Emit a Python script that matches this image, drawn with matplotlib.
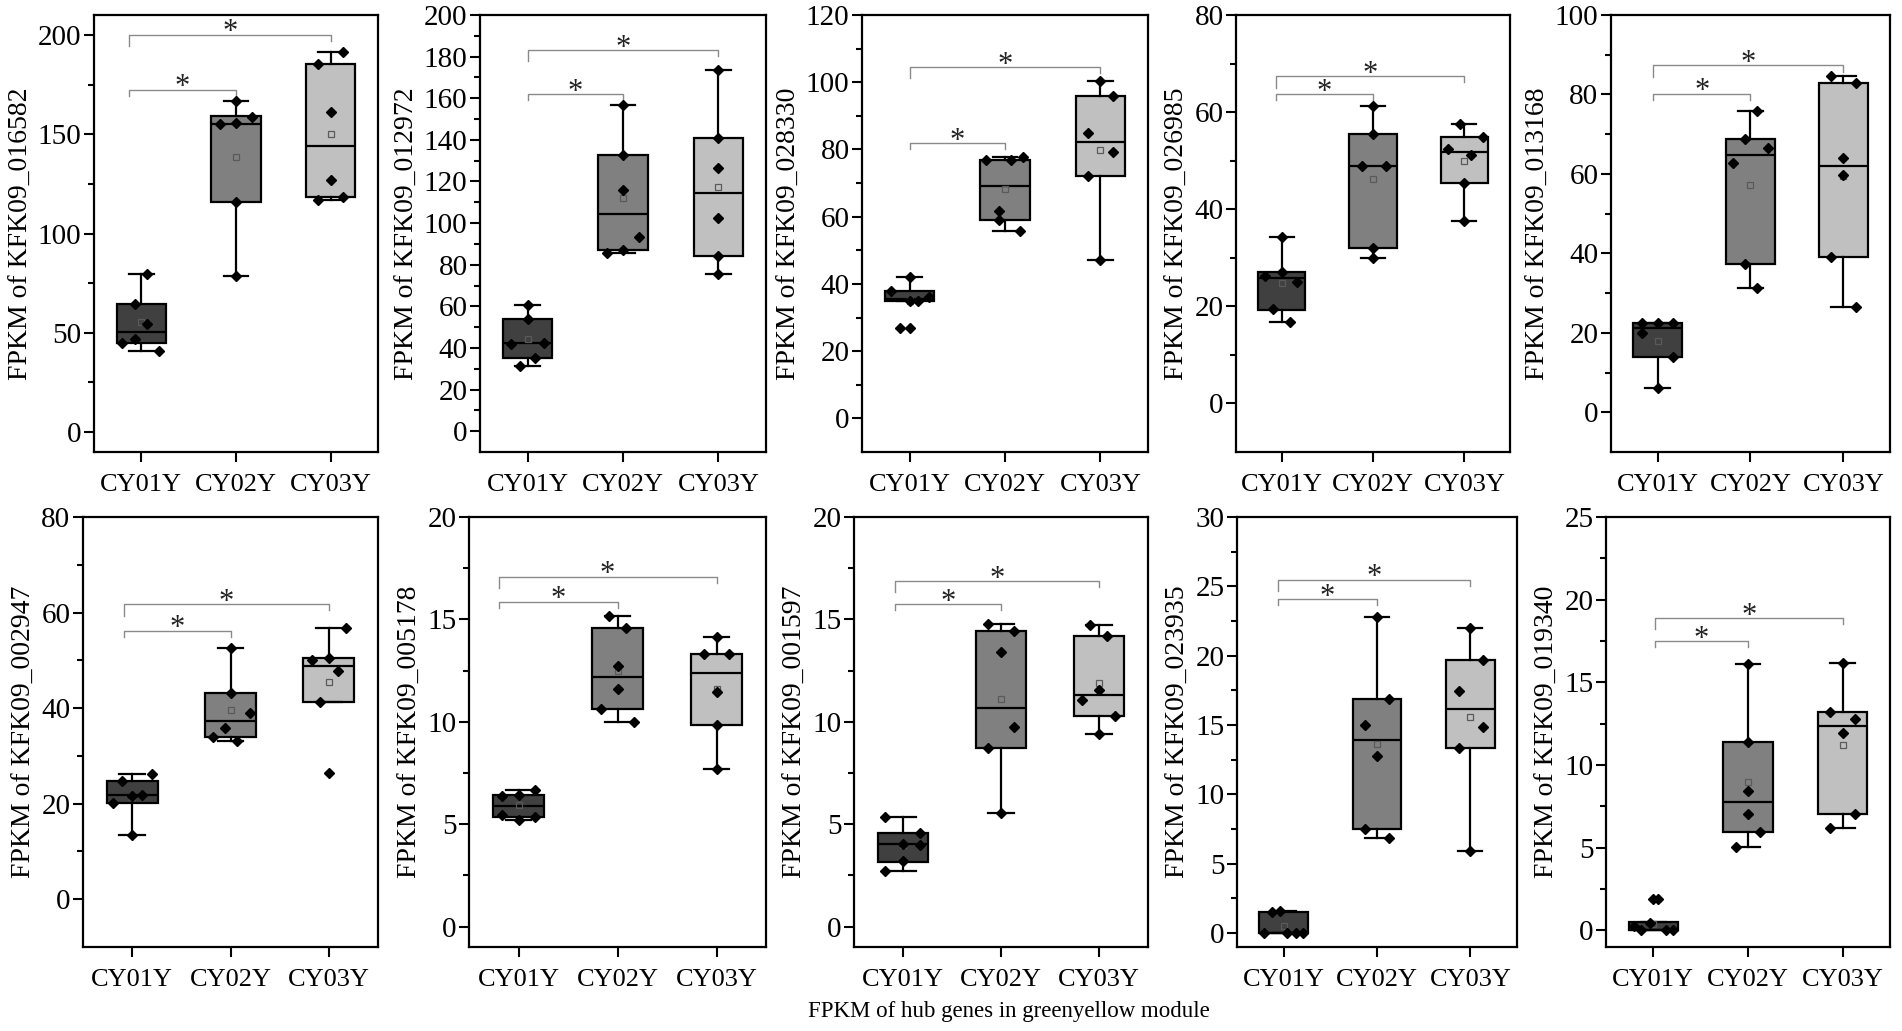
import numpy as np
import matplotlib
matplotlib.use("Agg")
import matplotlib.pyplot as plt
from matplotlib.ticker import FixedLocator

plt.rcParams['font.family'] = 'serif'
plt.rcParams['font.serif'] = ['Liberation Serif', 'Times New Roman', 'Nimbus Roman',
                              'DejaVu Serif']

# ---- data ----
groups = ['CY01Y', 'CY02Y', 'CY03Y']
genes = ['KFK09_016582', 'KFK09_012972', 'KFK09_028330', 'KFK09_026985', 'KFK09_013168',
         'KFK09_002947', 'KFK09_005178', 'KFK09_001597', 'KFK09_023935', 'KFK09_019340']

ymax = [210, 200, 120, 80, 100, 80, 20, 20, 30, 25]
ymin = [-10, -10, -10, -10, -10, -10, -1, -1, -1, -1]
major = [50, 20, 20, 20, 20, 20, 5, 5, 5, 5]

# box statistics per panel, per group
q1 = [[44.9, 116.1, 118.3], [35.0, 87.2, 84.0], [34.8, 59.0, 72.0], [19.2, 32.1, 45.4],
      [14.0, 37.4, 39.0], [20.2, 33.9, 41.3], [5.34, 10.63, 9.82], [3.16, 8.70, 10.26],
      [0.0, 7.5, 13.32], [0.0, 5.93, 7.04]]
med = [[50.6, 155.0, 144.3], [42.2, 104.5, 114.7], [35.6, 69.2, 82.1], [25.8, 49.0, 51.8],
       [21.2, 64.7, 61.9], [21.9, 37.4, 48.9], [5.90, 12.17, 12.38], [4.02, 10.67, 11.32],
       [0.0, 13.89, 16.15], [0.05, 7.74, 12.34]]
q3 = [[64.6, 159.0, 185.4], [53.9, 132.5, 140.8], [38.0, 77.0, 95.8], [27.1, 55.5, 54.9],
      [22.5, 68.8, 83.0], [24.7, 43.2, 50.5], [6.40, 14.56, 13.32], [4.59, 14.41, 14.17],
      [1.49, 16.88, 19.66], [0.52, 11.37, 13.23]]
wlo = [[40.8, 78.7, 116.8], [31.2, 85.6, 75.5], [34.8, 55.8, 47.0], [16.8, 29.9, 37.5],
       [6.2, 31.4, 26.5], [13.4, 33.2, 41.3], [5.18, 9.97, 7.7], [2.70, 5.54, 9.38],
       [0.0, 6.85, 5.94], [0.0, 5.02, 6.17]]
whi = [[79.4, 166.6, 191.2], [60.5, 156.8, 173.6], [42.0, 77.8, 100.3], [34.3, 61.2, 57.6],
       [22.5, 75.9, 84.7], [26.3, 52.6, 56.8], [6.69, 15.18, 14.14], [5.36, 14.77, 14.72],
       [1.61, 22.8, 21.97], [0.52, 16.09, 16.17]]
mean = [[55.3, 138.6, 150.2], [44.3, 112.0, 117.3], [35.0, 68.1, 79.8], [24.9, 46.2, 49.9],
        [18.0, 57.2, 59.5], [21.4, 39.7, 45.5], [5.93, 12.46, 11.61], [3.97, 11.11, 11.87],
        [0.53, 13.65, 15.58], [0.4, 8.99, 11.23]]

# individual samples
pts = [
    [[79.4, 64.6, 54.6, 46.7, 44.9, 40.8], [166.6, 155.0, 155.8, 158.8, 116.1, 78.7],
     [191.2, 185.4, 161.4, 127.0, 116.8, 118.3]],
    [[60.5, 53.9, 41.9, 42.4, 35.2, 31.2], [156.8, 132.5, 115.9, 93.3, 87.2, 85.6],
     [173.6, 140.8, 126.4, 102.6, 84.0, 75.5]],
    [[38.0, 42.0, 34.8, 34.8, 36.0, 26.8, 26.8], [76.9, 76.9, 77.8, 61.8, 59.0, 55.8],
     [100.3, 95.8, 84.8, 79.2, 72.0, 47.0]],
    [[34.3, 27.1, 26.3, 25.0, 19.4, 16.8], [61.2, 55.5, 48.8, 49.0, 32.1, 29.9],
     [57.6, 54.9, 52.5, 51.1, 45.4, 37.5]],
    [[22.5, 22.5, 22.5, 20.0, 14.0, 6.2], [75.9, 68.8, 66.6, 62.7, 37.4, 31.4],
     [84.7, 83.0, 64.0, 59.6, 39.0, 26.5]],
    [[26.3, 24.7, 21.7, 21.9, 20.2, 13.4], [52.6, 43.2, 38.9, 35.8, 33.9, 33.2],
     [56.8, 50.0, 50.5, 47.7, 41.3, 26.5]],
    [[6.69, 6.38, 6.40, 5.46, 5.37, 5.18], [15.18, 14.56, 12.70, 11.61, 10.63, 9.97],
     [14.14, 13.32, 13.32, 11.43, 9.82, 7.7]],
    [[5.36, 4.59, 4.02, 3.97, 3.18, 2.70], [14.77, 14.41, 13.40, 9.76, 8.70, 5.54],
     [14.72, 14.17, 11.55, 11.06, 10.26, 9.38]],
    [[1.49, 1.61, 0.0, 0.0, 0.0, 0.0], [22.8, 16.88, 15.0, 12.79, 7.5, 6.85],
     [21.97, 19.66, 17.45, 14.86, 13.32, 5.94]],
    [[1.92, 1.92, 0.48, 0.24, 0.0, 0.0, 0.0], [16.09, 11.37, 8.45, 7.02, 5.93, 5.02],
     [16.17, 13.23, 12.76, 11.94, 7.04, 6.17]],
]
# horizontal scatter of the samples inside each box (category units)
pt_dx = [
    [[0.06, -0.07, 0.06, -0.07, -0.2, 0.19], [0, -0.17, 0, 0.17, 0, 0], [0.13, -0.13, 0, 0, -0.13, 0.13]],
    [[0, 0, -0.17, 0.17, 0.08, -0.08], [0, 0, 0, 0.17, 0, -0.17], [0, 0, 0, 0, 0, 0]],
    [[-0.2, 0, 0, 0.09, 0.2, -0.1, 0], [-0.2, 0.06, 0.19, -0.06, -0.06, 0.16], [0, 0.13, -0.13, 0.13, -0.13, 0]],
    [[0, 0, -0.18, 0.17, -0.09, 0.09], [0, 0, -0.12, 0.14, 0, 0], [-0.05, 0.2, -0.18, 0.07, 0, 0]],
    [[-0.17, 0, 0.17, -0.17, 0.17, 0], [0.07, -0.06, 0.19, -0.19, -0.06, 0.07], [-0.13, 0.13, 0, 0, -0.13, 0.13]],
    [[0.2, -0.1, 0, 0.1, -0.2, 0], [0, 0, 0.2, -0.06, -0.18, 0.07], [0.17, -0.17, 0, 0.09, -0.09, 0]],
    [[0.17, -0.17, 0, -0.17, 0.17, 0], [-0.09, 0.09, 0, 0, -0.17, 0.17], [0, -0.13, 0.13, 0, 0, 0]],
    [[-0.18, 0.17, 0, 0.17, 0, -0.18], [-0.13, 0.13, 0, 0.13, -0.13, 0], [-0.09, 0.08, 0, -0.17, 0.16, 0]],
    [[-0.13, -0.04, -0.21, 0.04, 0.13, 0.21], [0, 0.13, -0.13, 0, -0.13, 0.13], [0, 0.14, -0.12, 0.14, -0.12, 0]],
    [[0, 0.05, -0.04, -0.2, -0.13, 0.13, 0.21], [0, 0, 0, 0, 0.13, -0.13], [0, -0.13, 0.13, 0, 0.13, -0.13]],
]

# significance brackets (y of the horizontal line)
sig_12 = [172.3, 161.9, 81.9, 63.7, 80.2, 56.2, 15.86, 15.73, 24.09, 17.48]
sig_13 = [200.0, 183.2, 104.5, 67.4, 87.3, 61.7, 17.08, 16.86, 25.48, 18.89]
brk_x0 = [0.87, 1.0, 1.0, 0.94, 0.95, 0.92, 0.8, 0.92, 0.94, 1.02]

# ---- layout (pixel boxes of the axes in the 1902x1031 figure) ----
W, H = 1902, 1031
boxes = [(94, 15, 378, 452), (480, 15, 766, 452), (862, 15, 1148, 452),
         (1236, 15, 1510, 452), (1611, 15, 1890, 452),
         (83, 517, 378, 947), (469, 517, 766, 947), (854, 517, 1148, 947),
         (1237, 517, 1517, 947), (1606, 517, 1890, 947)]
fills = ['#404040', '#808080', '#c0c0c0']

fig = plt.figure(figsize=(W / 100, H / 100), dpi=100)


def star(ax, x, y):
    ax.annotate('*', (x, y), xytext=(0, -4), textcoords='offset points',
                ha='center', va='baseline', fontsize=22, color='#222222')


for i, gene in enumerate(genes):
    l, t, r, b = boxes[i]
    ax = fig.add_axes([l / W, 1 - b / H, (r - l) / W, (b - t) / H])

    stats = []
    for g in range(3):
        stats.append(dict(q1=q1[i][g], med=med[i][g], q3=q3[i][g],
                          whislo=wlo[i][g], whishi=whi[i][g], mean=mean[i][g], fliers=[]))
    bp = ax.bxp(stats, positions=[1, 2, 3], widths=0.52, patch_artist=True,
                showmeans=True, showfliers=False,
                boxprops=dict(linewidth=1.6, edgecolor='black'),
                medianprops=dict(color='black', linewidth=1.6),
                whiskerprops=dict(color='black', linewidth=1.6),
                capprops=dict(color='black', linewidth=1.6),
                capwidths=0.26,
                meanprops=dict(marker='s', markersize=4.5, markerfacecolor='none',
                               markeredgecolor='#5a5a5a', markeredgewidth=0.9))
    for patch, c in zip(bp['boxes'], fills):
        patch.set_facecolor(c)

    for g in range(3):
        xs = np.array(pt_dx[i][g]) + g + 1
        ax.plot(xs, pts[i][g], linestyle='none', marker='D', markersize=5,
                color='black', zorder=4)

    # significance brackets
    span = ymax[i] - ymin[i]
    x0 = brk_x0[i]
    y = sig_12[i]
    ax.plot([x0, x0, 2, 2], [y - 0.014 * span, y, y, y - 0.014 * span],
            color='#8a8a8a', linewidth=1.0, clip_on=False)
    star(ax, (x0 + 2) / 2, y)
    y = sig_13[i]
    ax.plot([x0, x0, 3, 3], [y - 0.026 * span, y, y, y - 0.014 * span],
            color='#8a8a8a', linewidth=1.0, clip_on=False)
    star(ax, (x0 + 3) / 2, y)

    ax.set_xlim(0.5, 3.5)
    ax.set_ylim(ymin[i], ymax[i])
    step = major[i]
    ax.yaxis.set_major_locator(FixedLocator(np.arange(0, ymax[i] + 1e-9, step)))
    ax.yaxis.set_minor_locator(FixedLocator(np.arange(step / 2, ymax[i], step)))
    ax.set_xticks([1, 2, 3])
    ax.set_xticklabels(groups)
    ax.tick_params(axis='y', which='major', direction='out', length=7, width=1.5,
                   labelsize=21, pad=2)
    ax.tick_params(axis='y', which='minor', direction='out', length=4, width=1.5)
    ax.tick_params(axis='x', direction='out', length=7, width=1.5, labelsize=19, pad=9)
    ax.tick_params(top=False, right=False)
    for s in ax.spines.values():
        s.set_linewidth(1.6)
    ax.set_ylabel('FPKM of ' + gene, fontsize=20, labelpad=3)

fig.text(1009 / W, 1 - 1012 / H, 'FPKM of hub genes in greenyellow module',
         ha='center', va='center', fontsize=16.5)

fig.savefig('out.png', dpi=100)
